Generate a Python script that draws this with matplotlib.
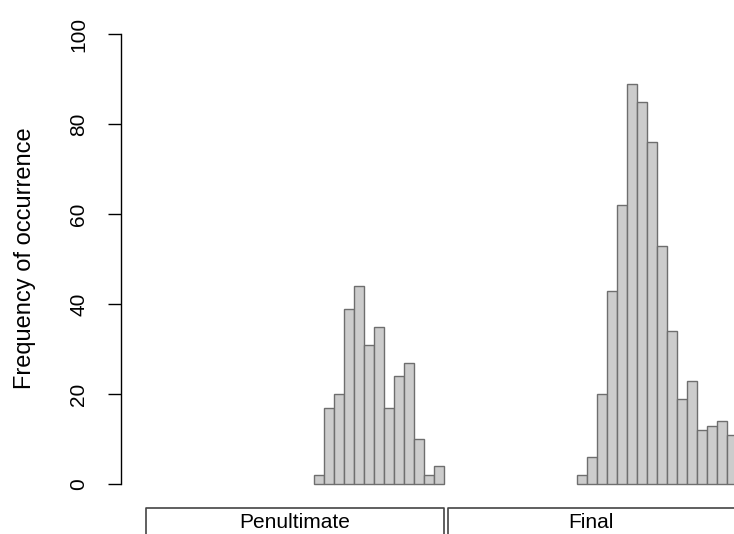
import matplotlib
matplotlib.use("Agg")
import matplotlib.pyplot as plt

plt.rcParams['font.family'] = ['Liberation Sans', 'DejaVu Sans']

# Data: histogram counts per bin (bin index units)
penult_counts = [2, 17, 20, 39, 44, 31, 35, 17, 24, 27, 10, 2, 4]
final_counts = [2, 6, 20, 43, 62, 89, 85, 76, 53, 34, 19, 23, 12, 13, 14, 11]
penult_first_bin = 31.4
final_first_bin = 57.7
yticks = [0, 20, 40, 60, 80, 100]
group_labels = ["Penultimate", "Final"]
ylabel = "Frequency of occurrence"

W, H = 734, 534
fig = plt.figure(figsize=(W / 100, H / 100), dpi=100)
ax = fig.add_axes([121 / W, (H - 502) / H, (W - 121) / W, 486 / H])
ax.set_xlim(12.1, 73.4)
ax.set_ylim(-4, 104)

for first, counts in ((penult_first_bin, penult_counts), (final_first_bin, final_counts)):
    xs = [first + i for i in range(len(counts))]
    ax.bar(xs, counts, width=1.0, align='edge', color='#cccccc',
           edgecolor='#6e6e6e', linewidth=1.0)

for s in ['top', 'right', 'bottom']:
    ax.spines[s].set_visible(False)
ax.spines['left'].set_bounds(0, 100)
ax.spines['left'].set_linewidth(1.0)
ax.set_xticks([])
ax.tick_params(axis='y', length=9.5, width=1.0, pad=14, labelsize=15, labelrotation=90)
ax.set_yticks(yticks)
ax.set_yticklabels([str(v) for v in yticks])
for t in ax.get_yticklabels():
    t.set_va('center')

fig.text(25 / W, 1 - 258 / H, ylabel, rotation=90, ha='center', va='center', fontsize=17)

brackets = [(146, 443.5, group_labels[0]), (448, 740, group_labels[1])]
for x0, x1, lab in brackets:
    xs_ = [x0, x0, x1, x1]
    ys_ = [540, 508, 508, 540]
    fig.add_artist(plt.Line2D([x / W for x in xs_], [1 - y / H for y in ys_],
                              color='#444444', linewidth=1.2))
    cx = (x0 + min(x1, 734)) / 2
    fig.text(cx / W, 1 - 522 / H, lab, ha='center', va='center', fontsize=15)

fig.savefig("out.png", dpi=100)
